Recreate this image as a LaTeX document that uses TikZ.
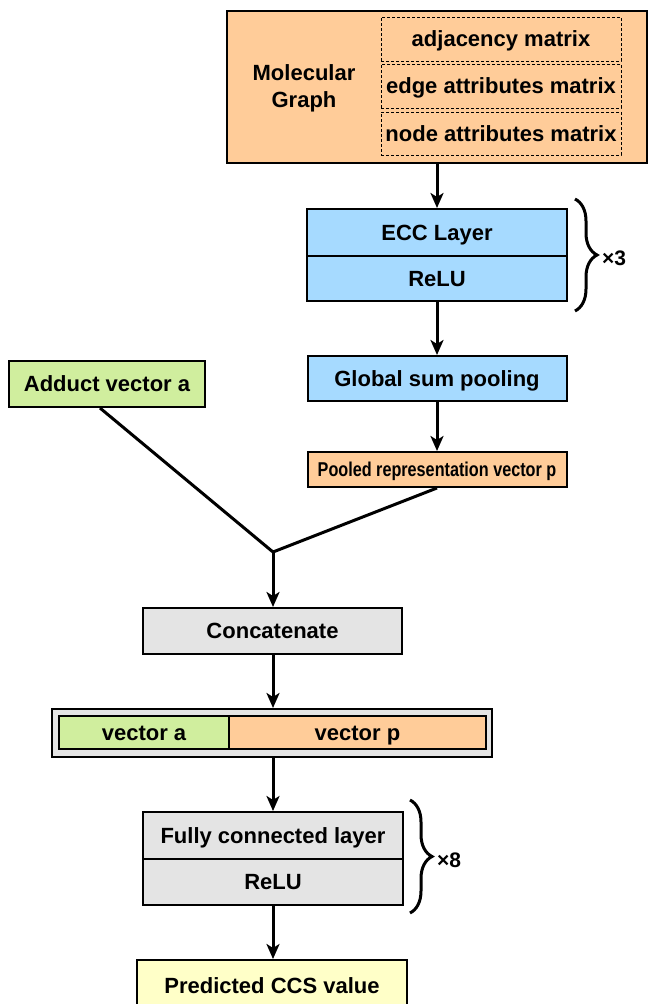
\documentclass[tikz,border=0pt]{standalone}
\usepackage{fontspec}
\setmainfont{Liberation Sans}
\usetikzlibrary{arrows.meta,decorations.pathreplacing,calc}
\definecolor{peach}{HTML}{FFCC99}
\definecolor{sky}{HTML}{A6DAFF}
\definecolor{lime}{HTML}{D0EE9E}
\definecolor{lgray}{HTML}{E4E4E4}
\definecolor{cream}{HTML}{FFFFC8}
\tikzset{
  box/.style={draw=black, line width=2pt, inner sep=0pt, align=center,
    text height=15.8pt, text depth=0pt,
    font=\fontsize{22}{27}\selectfont\bfseries},
  dbox/.style={draw=black, densely dashed, line width=0.8pt, inner sep=0pt,
    text height=15.8pt, text depth=0pt,
    font=\fontsize{22}{27}\selectfont\bfseries},
  lbl/.style={inner sep=0pt, align=center, font=\fontsize{22}{27}\selectfont\bfseries},
  arr/.style={line width=3pt, -{Stealth[length=15pt,width=13pt,inset=4pt]}},
  conn/.style={line width=3pt},
  brc/.style={decorate, decoration={brace, amplitude=22pt}, line width=3pt},
}
\begin{document}
\begin{tikzpicture}[x=1pt,y=-1pt]
\useasboundingbox (0,0) rectangle (648,1004);
% molecular graph block
\node[box, fill=peach, minimum width=420pt, minimum height=152pt] (mol) at (437,87) {};
\node[lbl] (mgtext) at (304,88) {Molecular\\Graph};
\node[dbox, minimum width=240pt, minimum height=44pt] (adj) at (501,39) {adjacency matrix};
\node[dbox, minimum width=240pt, minimum height=44pt] (edge) at (501,86) {edge attributes matrix};
\node[dbox, minimum width=240pt, minimum height=43pt] (natt) at (501,133.5) {node attributes matrix};
% ECC
\node[box, fill=sky, minimum width=260pt, minimum height=47pt] (ecc) at (437,232.5) {ECC Layer};
\node[box, fill=sky, minimum width=260pt, minimum height=45pt] (relua) at (437,278.5) {ReLU};
\draw[brc] (575,199) -- (575,311) coordinate[midway] (bra);
\node[lbl, anchor=west, font=\fontsize{21}{25}\selectfont\bfseries] (x3) at (602,258) {×3};
% pooling
\node[box, fill=sky, minimum width=259pt, minimum height=45pt] (pool) at (437,378.5) {Global sum pooling};
\node[box, fill=peach, minimum width=259pt, minimum height=35pt, text height=14.4pt,
  font=\fontsize{20}{24}\selectfont\bfseries] (pooled) at (437,469.5) {\scalebox{0.81}[1]{Pooled representation vector p}};
\node[box, fill=lime, minimum width=196pt, minimum height=46pt] (adduct) at (107,384) {Adduct vector a};
\coordinate (junc) at (273,552);
% concatenate
\node[box, fill=lgray, minimum width=259pt, minimum height=46pt] (concat) at (272.5,631) {Concatenate};
\node[box, fill=lgray, minimum width=440pt, minimum height=48pt] (bar) at (272,733) {};
\node[box, fill=lime, minimum width=170pt, minimum height=33pt] (va) at (144,732.5) {vector a};
\node[box, fill=peach, minimum width=257pt, minimum height=33pt] (vp) at (357.5,732.5) {vector p};
% fully connected
\node[box, fill=lgray, minimum width=260pt, minimum height=47pt] (fc) at (273,835.5) {Fully connected layer};
\node[box, fill=lgray, minimum width=260pt, minimum height=46pt] (relub) at (273,882) {ReLU};
\draw[brc] (410,800) -- (410,913) coordinate[midway] (brb);
\node[lbl, anchor=west, font=\fontsize{21}{25}\selectfont\bfseries] (x8) at (437,860) {×8};
\node[box, fill=cream, minimum width=270pt, minimum height=52pt] (pred) at (272,986) {Predicted CCS value};
% connectors
\draw[arr] (mol.south) -- (ecc.north);
\draw[arr] (relua.south) -- (pool.north);
\draw[arr] (pool.south) -- (pooled.north);
\draw[conn, line join=miter] ([xshift=-7pt]adduct.south) -- (junc) -- (pooled.south);
\draw[arr] (junc) -- (junc |- concat.north);
\draw[arr] (concat.south -| junc) -- (junc |- bar.north);
\draw[arr] (junc |- bar.south) -- (junc |- fc.north);
\draw[arr] (relub.south) -- (relub.south |- pred.north);
\end{tikzpicture}
\end{document}
